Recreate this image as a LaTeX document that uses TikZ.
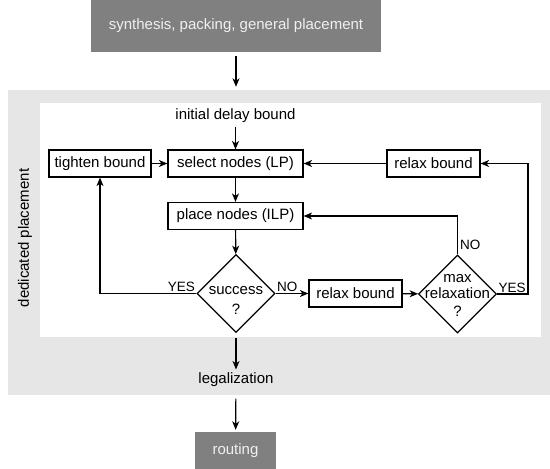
\documentclass[tikz,border=0pt]{standalone}
\usepackage{fontspec}
\setmainfont{Liberation Sans}
\usetikzlibrary{shapes.geometric,arrows.meta,positioning}
\definecolor{stagegray}{HTML}{808080}
\definecolor{stagetext}{HTML}{F0F0F0}
\definecolor{regiongray}{HTML}{E6E6E6}

\begin{document}
\begin{tikzpicture}[x=1pt,y=-1pt,font=\fontsize{15}{17}\selectfont]
        \tikzstyle{stage} = [fill=stagegray, text=stagetext, inner sep=0pt]
        \tikzstyle{pbox} = [draw=black, line width=1.2pt, minimum height=27pt, inner sep=0pt]
        \tikzstyle{dec} = [draw=black, line width=1.2pt, diamond, minimum width=78pt, minimum height=78pt, inner sep=0pt]
        \tikzstyle{lbl} = [inner sep=1pt, font=\fontsize{13.5}{16}\selectfont]
        \tikzstyle{arr} = [line width=1.2pt, -{Stealth[length=8.5pt,width=7pt,inset=2.5pt]}]

        \useasboundingbox (0,0) rectangle (550,469);
        \node[fill=regiongray, minimum width=542pt, minimum height=305pt, inner sep=0pt] (region) at (279,242.5) {};
        \node[fill=white, minimum width=501pt, minimum height=234pt, inner sep=0pt] (inner) at (290.5,220) {};

        \node[stage, minimum width=290pt, minimum height=52pt] (synth) at (236,26) {synthesis, packing, general placement};
        \node[stage, minimum width=81pt, minimum height=37pt] (route) at (235.5,450.5) {routing};

        \node (init) at (235.5,116) {initial delay bound};
        \node[pbox, minimum width=102pt] (tighten) at (100,163.5) {tighten bound};
        \node[pbox, minimum width=135pt] (select) at (235.5,163.5) {select nodes (LP)};
        \node[pbox, minimum width=93pt] (relax1) at (433.5,163.5) {relax bound};
        \node[pbox, minimum width=135pt] (place) at (235.5,216) {place nodes (ILP)};
        \node[dec] (success) at (236,293.5) {};
        \node[align=center] (successtxt) at (236,300) {success\\[3pt]?};
        \node[pbox, minimum width=93pt] (relax2) at (355.5,293.5) {relax bound};
        \node[dec] (maxrel) at (457.5,294) {};
        \node[align=center, font=\fontsize{15}{16}\selectfont] (maxreltxt) at (457.5,295) {max\\relaxation\\[2pt]?};
        \node (legal) at (236,380) {legalization};
        \node[rotate=90] (dedicated) at (25,238) {dedicated placement};
        \coordinate (rturn) at (528,163.5);

        \draw[arr, shorten <=4pt, shorten >=3pt] (synth) -- (synth |- region.north);
        \draw[arr] (init) -- (select);
        \draw[arr] (tighten) -- (select);
        \draw[arr] (relax1) -- (select);
        \draw[arr] (select) -- (place);
        \draw[arr] (place) -- (success);
        \draw[arr] (success) -- node[lbl, pos=0, above right] {NO} (relax2);
        \draw[arr] (relax2) -- (maxrel);
        \draw[arr] (maxrel) -- node[lbl, pos=0.26, right=1pt] {NO} (maxrel |- place) -- (place);
        \draw[arr] (maxrel.east) -| node[lbl, pos=0, above right] {YES} (rturn) -- (relax1);
        \draw[arr] (success.west) -| node[lbl, pos=0, above left] {YES} (tighten);
        \draw[arr, shorten <=5pt] (success) -- (legal);
        \draw[arr, shorten <=8pt, shorten >=2pt] (legal) -- (route);
\end{tikzpicture}
\end{document}
